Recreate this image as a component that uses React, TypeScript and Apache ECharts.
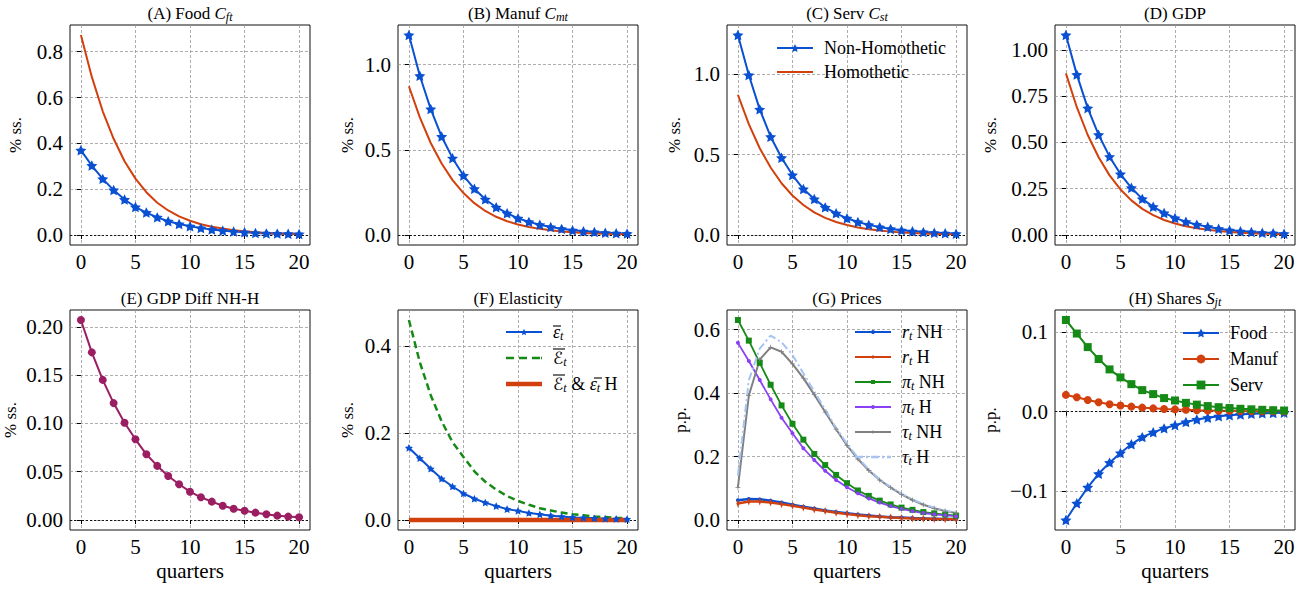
import React, { useEffect, useRef } from 'react';
import * as echarts from 'echarts';

// ---------------- data ----------------
const quarters = [0, 1, 2, 3, 4, 5, 6, 7, 8, 9, 10, 11, 12, 13, 14, 15, 16, 17, 18, 19, 20];
const xTicks = [0, 5, 10, 15, 20];

const homothetic = [0.873, 0.69, 0.54, 0.42, 0.322, 0.246, 0.187, 0.141, 0.107, 0.081, 0.062, 0.047, 0.036, 0.028, 0.021, 0.016, 0.012, 0.009, 0.007, 0.006, 0.004];
const foodNH = [0.37, 0.303, 0.245, 0.196, 0.155, 0.122, 0.098, 0.077, 0.06, 0.048, 0.038, 0.03, 0.024, 0.019, 0.015, 0.012, 0.009, 0.007, 0.006, 0.005, 0.004];
const manufNH = [1.174, 0.935, 0.739, 0.578, 0.451, 0.349, 0.271, 0.21, 0.163, 0.128, 0.098, 0.077, 0.06, 0.047, 0.036, 0.028, 0.022, 0.017, 0.013, 0.01, 0.008];
const servNH = [1.245, 0.996, 0.782, 0.612, 0.481, 0.373, 0.286, 0.224, 0.172, 0.135, 0.104, 0.081, 0.063, 0.049, 0.038, 0.03, 0.023, 0.018, 0.014, 0.011, 0.008];
const gdpNH = [1.08, 0.866, 0.685, 0.541, 0.423, 0.329, 0.255, 0.195, 0.152, 0.119, 0.092, 0.072, 0.056, 0.044, 0.034, 0.026, 0.02, 0.016, 0.012, 0.01, 0.007];
const gdpDiff = [0.207, 0.1735, 0.145, 0.121, 0.1007, 0.0835, 0.068, 0.056, 0.0455, 0.037, 0.0293, 0.0235, 0.019, 0.0148, 0.0117, 0.0096, 0.0076, 0.0059, 0.0045, 0.0035, 0.0028];

const elastEps = [0.166, 0.142, 0.118, 0.095, 0.077, 0.061, 0.049, 0.04, 0.032, 0.025, 0.021, 0.016, 0.013, 0.01, 0.008, 0.006, 0.005, 0.004, 0.003, 0.0025, 0.002];
const elastCalE = [0.46, 0.363, 0.287, 0.227, 0.179, 0.145, 0.112, 0.088, 0.07, 0.055, 0.044, 0.035, 0.027, 0.022, 0.017, 0.013, 0.011, 0.008, 0.007, 0.005, 0.004];
const elastH = [0, 0, 0, 0, 0, 0, 0, 0, 0, 0, 0, 0, 0, 0, 0, 0, 0, 0, 0, 0, 0];

const rNH = [0.062, 0.066, 0.065, 0.061, 0.055, 0.048, 0.042, 0.036, 0.03, 0.025, 0.021, 0.017, 0.014, 0.011, 0.009, 0.008, 0.006, 0.005, 0.004, 0.003, 0.003];
const rH = [0.052, 0.058, 0.058, 0.055, 0.05, 0.045, 0.039, 0.033, 0.028, 0.023, 0.019, 0.015, 0.012, 0.01, 0.008, 0.006, 0.005, 0.004, 0.003, 0.002, 0.002];
const piNH = [0.63, 0.565, 0.495, 0.426, 0.361, 0.303, 0.253, 0.208, 0.173, 0.142, 0.116, 0.093, 0.076, 0.061, 0.049, 0.039, 0.032, 0.025, 0.021, 0.017, 0.014];
const piH = [0.558, 0.501, 0.441, 0.38, 0.322, 0.273, 0.226, 0.189, 0.155, 0.126, 0.103, 0.084, 0.068, 0.055, 0.044, 0.035, 0.028, 0.022, 0.018, 0.015, 0.012];
const tauNH = [0.103, 0.392, 0.505, 0.544, 0.53, 0.492, 0.447, 0.395, 0.34, 0.286, 0.235, 0.192, 0.156, 0.126, 0.102, 0.081, 0.063, 0.048, 0.037, 0.028, 0.022];
const tauH = [0.14, 0.44, 0.54, 0.581, 0.56, 0.52, 0.462, 0.405, 0.348, 0.29, 0.24, 0.196, 0.159, 0.128, 0.104, 0.083, 0.065, 0.05, 0.039, 0.03, 0.023];

const shareFood = [-0.136, -0.115, -0.095, -0.078, -0.064, -0.052, -0.041, -0.032, -0.026, -0.021, -0.017, -0.013, -0.01, -0.0076, -0.0059, -0.0046, -0.0036, -0.0028, -0.0022, -0.0017, -0.0013];
const shareManuf = [0.021, 0.018, 0.0147, 0.0118, 0.0092, 0.0076, 0.0063, 0.005, 0.0041, 0.0034, 0.0028, 0.0023, 0.0018, 0.0015, 0.0012, 0.001, 0.0008, 0.0006, 0.0005, 0.0004, 0.0003];
const shareServ = [0.115, 0.098, 0.081, 0.066, 0.053, 0.043, 0.0345, 0.027, 0.022, 0.017, 0.014, 0.011, 0.0088, 0.007, 0.0056, 0.0045, 0.0036, 0.0029, 0.0023, 0.0018, 0.0014];

const yTicks = [
  [0, 0.2, 0.4, 0.6, 0.8],
  [0, 0.5, 1.0],
  [0, 0.5, 1.0],
  [0, 0.25, 0.5, 0.75, 1.0],
  [0, 0.05, 0.1, 0.15, 0.2],
  [0, 0.2, 0.4],
  [0, 0.2, 0.4, 0.6],
  [-0.1, 0, 0.1],
];
const yDecimals = [1, 1, 1, 2, 2, 1, 1, 1];
const yNames = ['% ss.', '% ss.', '% ss.', '% ss.', '% ss.', '% ss.', 'p.p.', 'p.p.'];

// ---------------- styles ----------------
const FONT = '"Liberation Serif", "DejaVu Serif", serif';
const BLUE = '#0a50d2';
const RED = '#d2400e';
const GREEN = '#168a16';
const PURPLE = '#8a40f5';
const GRAY = '#808080';
const LIGHTBLUE = '#a6c3f2';
const MAROON = '#9b1d62';

const STAR = 'path://M0,-10L2.94,-4.05L9.51,-3.09L4.76,1.55L5.88,8.09L0,5L-5.88,8.09L-4.76,1.55L-9.51,-3.09L-2.94,-4.05Z';
const THIN_DIAMOND = 'path://M0,-10L6,0L0,10L-6,0Z';
const PLUS = 'path://M-1.5,-10H1.5V-1.5H10V1.5H1.5V10H-1.5V1.5H-10V-1.5H-1.5Z';
const BAR2 = 'path://M0,0H36V2H0Z';
const BAR45 = 'path://M0,0H36V4.5H0Z';
const DASHED = 'path://M0,0H8V2.5H0Z M13,0H21V2.5H13Z M26,0H34V2.5H26Z M35,0H36V2.5H35Z';
const DASHDOT = 'path://M0,0H8V2.5H0Z M11,0H13V2.5H11Z M16,0H24V2.5H16Z M27,0H29V2.5H27Z M32,0H36V2.5H32Z';

const LEFTS = [70, 398, 727, 1055];
const TOPS = [25, 310];
const GW = 240;
const GH = 220;
const nameGaps = [46, 42, 44, 56, 51, 42, 38, 56];

const pts = (arr: number[]) => quarters.map((q, i) => [q, arr[i]]);

const panelData: number[][][] = [
  [foodNH, homothetic],
  [manufNH, homothetic],
  [servNH, homothetic],
  [gdpNH, homothetic],
  [gdpDiff],
  [elastEps, elastCalE, elastH],
  [rNH, rH, piNH, piH, tauNH, tauH],
  [shareFood, shareManuf, shareServ],
];

const limits = panelData.map((arrs) => {
  let lo = 0;
  let hi = 0;
  arrs.forEach((a) => a.forEach((v) => { lo = Math.min(lo, v); hi = Math.max(hi, v); }));
  const pad = (hi - lo) * 0.05;
  return [lo - pad, hi + pad];
});

const subRich = {
  i: { fontFamily: FONT, fontSize: 17, fontStyle: 'italic', fill: '#000', color: '#000', lineHeight: 20 },
  s: { fontFamily: FONT, fontSize: 12, fontStyle: 'italic', fill: '#000', color: '#000', lineHeight: 12, verticalAlign: 'bottom' },
};

const titles = [
  '(A) Food {i|C}{s|ft}',
  '(B) Manuf {i|C}{s|mt}',
  '(C) Serv {i|C}{s|st}',
  '(D) GDP',
  '(E) GDP Diff NH-H',
  '(F) Elasticity',
  '(G) Prices',
  '(H) Shares {i|S}{s|jt}',
];

const legendText: Record<string, string> = {
  eps: '{ob|\u03B5}{sb|t}',
  calE: '{cal|\u2130}{sb|t}',
  elH: '{cal|\u2130}{sb|t} & {ob|\u03B5}{sb|t} H',
  rNH: '{it|r}{sb|t} NH',
  rH: '{it|r}{sb|t} H',
  piNH: '{it|\u03C0}{sb|t} NH',
  piH: '{it|\u03C0}{sb|t} H',
  tauNH: '{it|\u03C4}{sb|t} NH',
  tauH: '{it|\u03C4}{sb|t} H',
};

// overline bars above the legend symbols in panel F: [x1, x2, y]
const overlines = [
  [553, 561, 326],
  [553, 565, 349],
  [553, 565, 375],
  [594, 602, 378],
];

function mk(name: string, p: number, values: number[], o: any) {
  return {
    type: 'line',
    name,
    xAxisIndex: p,
    yAxisIndex: p,
    data: pts(values),
    symbol: o.symbol || 'none',
    symbolSize: o.size || 6,
    symbolKeepAspect: true,
    showSymbol: !!o.symbol,
    lineStyle: { color: o.color, width: o.width || 2, type: o.type || 'solid' },
    itemStyle: { color: o.color, borderWidth: 0 },
    emphasis: { disabled: true },
    z: 3,
  };
}

function zeroLine() {
  return {
    silent: true,
    symbol: ['none', 'none'],
    label: { show: false },
    lineStyle: { color: '#000', type: [2, 2], width: 0.9 },
    data: [{ yAxis: 0 }],
    z: 1,
  };
}

function buildOption() {
  const grids: any[] = [];
  const xAxes: any[] = [];
  const yAxes: any[] = [];
  for (let p = 0; p < 8; p++) {
    const row = p < 4 ? 0 : 1;
    grids.push({
      left: LEFTS[p % 4], top: TOPS[row], width: GW, height: GH,
      show: true, borderColor: '#111', borderWidth: 1, backgroundColor: 'transparent',
      containLabel: false, outerBoundsMode: 'none',
    });
    xAxes.push({
      gridIndex: p, type: 'value', min: -1, max: 21,
      axisLine: { show: false },
      axisTick: { show: true, customValues: xTicks, length: 4, lineStyle: { color: '#000', width: 1 } },
      axisLabel: { show: true, customValues: xTicks, fontSize: 21, fontFamily: FONT, color: '#000', margin: 6, formatter: (v: number) => String(v) },
      splitLine: { show: true, lineStyle: { color: '#999', width: 0.8, type: [3, 2] } },
      name: row === 1 ? 'quarters' : '', nameLocation: 'middle', nameGap: 30,
      nameTextStyle: { fontSize: 21, fontFamily: FONT, color: '#000' },
    });
    const dec = yDecimals[p];
    yAxes.push({
      gridIndex: p, type: 'value', min: limits[p][0], max: limits[p][1],
      axisLine: { show: false },
      axisTick: { show: true, customValues: yTicks[p], length: 4, lineStyle: { color: '#000', width: 1 } },
      axisLabel: {
        show: true, customValues: yTicks[p], fontSize: 21, fontFamily: FONT, color: '#000', margin: 7,
        formatter: (v: number) => (v < 0 ? '\u2212' : '') + Math.abs(v).toFixed(dec),
      },
      splitLine: { show: true, lineStyle: { color: '#999', width: 0.8, type: [3, 2] } },
      name: yNames[p], nameLocation: 'middle', nameRotate: 90, nameGap: nameGaps[p],
      nameTextStyle: { fontSize: 17, fontFamily: FONT, color: '#000' },
    });
  }

  const series: any[] = [];
  // A-D
  const nh = [foodNH, manufNH, servNH, gdpNH];
  nh.forEach((arr, p) => {
    const s1: any = mk('Non-Homothetic', p, arr, { color: BLUE, symbol: STAR, size: 11, width: 2 });
    s1.markLine = zeroLine();
    series.push(s1);
    series.push(mk('Homothetic', p, homothetic, { color: RED, width: 2 }));
  });
  // E
  const e: any = mk('gdpDiff', 4, gdpDiff, { color: MAROON, symbol: 'circle', size: 8, width: 2 });
  e.markLine = zeroLine();
  series.push(e);
  // F
  const f1: any = mk('eps', 5, elastEps, { color: BLUE, symbol: STAR, size: 8, width: 2 });
  f1.markLine = zeroLine();
  series.push(f1);
  series.push(mk('calE', 5, elastCalE, { color: GREEN, width: 2.5, type: [7, 4] }));
  series.push(mk('elH', 5, elastH, { color: RED, width: 4.5 }));
  // G
  const g1: any = mk('rNH', 6, rNH, { color: BLUE, symbol: 'circle', size: 4, width: 2.5 });
  g1.markLine = zeroLine();
  series.push(g1);
  series.push(mk('rH', 6, rH, { color: RED, symbol: THIN_DIAMOND, size: [5, 8], width: 2.5 }));
  series.push(mk('piNH', 6, piNH, { color: GREEN, symbol: 'rect', size: 6, width: 1.8 }));
  series.push(mk('piH', 6, piH, { color: PURPLE, symbol: 'circle', size: 4, width: 1.8 }));
  series.push(mk('tauNH', 6, tauNH, { color: GRAY, symbol: PLUS, size: 5, width: 2 }));
  series.push(mk('tauH', 6, tauH, { color: LIGHTBLUE, width: 2, type: [8, 3, 2, 3] }));
  // H
  const h1: any = mk('Food', 7, shareFood, { color: BLUE, symbol: STAR, size: 11, width: 2 });
  h1.markLine = zeroLine();
  series.push(h1);
  series.push(mk('Manuf', 7, shareManuf, { color: RED, symbol: 'circle', size: 8, width: 2 }));
  series.push(mk('Serv', 7, shareServ, { color: GREEN, symbol: 'rect', size: 8, width: 2 }));

  const legRich = {
    it: { fontFamily: FONT, fontSize: 18, fontStyle: 'italic', color: '#000', lineHeight: 20 },
    ob: { fontFamily: FONT, fontSize: 18, fontStyle: 'italic', color: '#000', lineHeight: 20 },
    cal: { fontFamily: '"DejaVu Sans", "DejaVu Serif", serif', fontSize: 17, fontStyle: 'normal', color: '#000', lineHeight: 20 },
    sb: { fontFamily: FONT, fontSize: 12, fontStyle: 'italic', color: '#000', lineHeight: 12, verticalAlign: 'bottom' },
  };
  const legBase = (left: number, top: number, gap: number, ih: number, data: any[]) => ({
    orient: 'vertical', left, top, padding: 0, itemGap: gap, itemWidth: 36, itemHeight: ih,
    selectedMode: false, backgroundColor: 'transparent', borderWidth: 0,
    symbolKeepAspect: true,
    textStyle: { fontFamily: FONT, fontSize: 18, color: '#000', lineHeight: 20, padding: [0, 0, 0, 6], rich: legRich },
    formatter: (n: string) => legendText[n] || n,
    data,
  });
  const legends = [
    legBase(776, 38, 4, 10, [{ name: 'Non-Homothetic' }, { name: 'Homothetic', icon: BAR2 }]),
    legBase(505, 322, 6, 8, [{ name: 'eps' }, { name: 'calE', icon: DASHED }, { name: 'elH', icon: BAR45 }]),
    legBase(854, 322, 5, 5, [{ name: 'rNH' }, { name: 'rH' }, { name: 'piNH' }, { name: 'piH' }, { name: 'tauNH' }, { name: 'tauH', icon: DASHDOT }]),
    legBase(1182, 323, 6, 11, [{ name: 'Food' }, { name: 'Manuf' }, { name: 'Serv' }]),
  ];

  const graphics: any[] = titles.map((t, p) => ({
    type: 'text',
    x: LEFTS[p % 4] + GW / 2,
    y: p < 4 ? 13 : 298,
    silent: true,
    style: {
      text: t, fill: '#000', fontFamily: FONT, fontSize: 17, align: 'center', verticalAlign: 'middle',
      rich: subRich,
    },
  }));
  overlines.forEach(([x1, x2, y]) => {
    graphics.push({
      type: 'line', silent: true, z: 100,
      shape: { x1, y1: y, x2, y2: y },
      style: { stroke: '#000', lineWidth: 1.1 },
    });
  });

  return {
    animation: false,
    backgroundColor: '#fff',
    grid: grids,
    xAxis: xAxes,
    yAxis: yAxes,
    series,
    legend: legends,
    graphic: graphics,
  };
}

export default function App() {
  const ref = useRef<HTMLDivElement>(null);
  useEffect(() => {
    if (!ref.current) return;
    const chart = echarts.init(ref.current, undefined, { renderer: 'svg' });
    chart.setOption(buildOption() as any);
    return () => chart.dispose();
  }, []);
  return <div ref={ref} style={{ position: 'fixed', left: 0, top: 0, width: 1312, height: 590, background: '#fff' }} />;
}
